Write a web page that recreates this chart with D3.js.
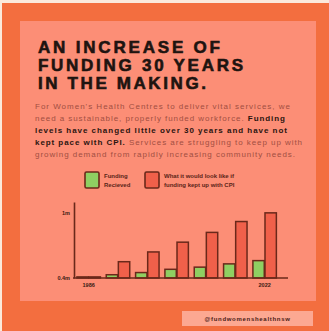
<!DOCTYPE html>
<html><head><meta charset="utf-8">
<script src="https://cdn.jsdelivr.net/npm/d3@7"></script>
<style>html,body{margin:0;padding:0;background:#fbe9dc;}svg{display:block;}</style>
</head><body>
<script>
const years = ["1986","1992","1998","2004","2010","2016","2022"];
const tickYears = ["1986","2022"];
const fundingReceived = [0.41, 0.43, 0.45, 0.48, 0.50, 0.53, 0.56];
const fundingCPI = [0.41, 0.55, 0.64, 0.73, 0.82, 0.92, 1.0];
const yTicks = [0.4, 1.0];
const yTickLabels = ["0.4m", "1m"];
const seriesNames = ["Funding Recieved", "What it would look like if funding kept up with CPI"];

const W = 329, H = 331;
const svg = d3.select("body").append("svg").attr("width", W).attr("height", H);
const dark = "#6a281a";
const fontF = "'Liberation Sans', Arial, sans-serif";

svg.append("rect").attr("x",0).attr("y",0).attr("width",W).attr("height",H).attr("fill","#fbe9dc");
svg.append("rect").attr("x",2).attr("y",3).attr("width",W-2).attr("height",H-3).attr("fill","#f36e3f");
svg.append("rect").attr("x",20).attr("y",21).attr("width",296).attr("height",280).attr("fill","#fc8e76");

// Title
const titleLines = ["AN INCREASE OF","FUNDING 30 YEARS","IN THE MAKING."];
const titleW = [182, 205, 168];
titleLines.forEach((t,i)=>{
  svg.append("text").attr("x",38).attr("y",53 + i*18)
    .attr("font-family",fontF).attr("font-weight","bold").attr("font-size",17)
    .attr("fill","#1e1410").attr("stroke","#1e1410").attr("stroke-width",0.6)
    .attr("textLength",titleW[i]).attr("lengthAdjust","spacing")
    .text(t);
});

// Body text
const bodyLines = [
  [["For Women's Health Centres to deliver vital services, we",false]],
  [["need a sustainable, properly funded workforce. ",false],["Funding",true]],
  [["levels have changed little over 30 years and have not",true]],
  [["kept pace with CPI.",true],[" Services are struggling to keep up with",false]],
  [["growing demand from rapidly increasing community needs.",false]]
];
const bodyW = [255, 250, 252, 267, 260];
bodyLines.forEach((parts,i)=>{
  const t = svg.append("text").attr("x",35).attr("y",109 + i*12)
    .attr("font-family",fontF).attr("font-size",8)
    .attr("textLength",bodyW[i]).attr("lengthAdjust","spacing");
  parts.forEach(p=>{
    t.append("tspan").attr("font-weight",p[1]?"bold":"normal")
     .attr("fill",p[1]?"#2b1510":"#a24f42").text(p[0]);
  });
});

// Legend
const colors = ["#8fcf62","#f0604a"];
const legend = [
  {x:85, lines:["Funding","Recieved"], tx:104},
  {x:145, lines:["What it would look like if","funding kept up with CPI"], tx:164}
];
legend.forEach((l,i)=>{
  svg.append("rect").attr("x",l.x).attr("y",172).attr("width",14).attr("height",16)
    .attr("rx",1.5).attr("fill",colors[i]).attr("stroke",dark).attr("stroke-width",1.6);
  l.lines.forEach((s,j)=>{
    svg.append("text").attr("x",l.tx).attr("y",178 + j*8.5)
      .attr("font-family",fontF).attr("font-weight","bold").attr("font-size",6)
      .attr("fill","#5a2418").text(s);
  });
});

// Chart
const x0 = d3.scaleBand().domain(years).range([74, 279.3]).paddingInner(0.2).paddingOuter(0.1);
const x1 = d3.scaleBand().domain([0,1]).range([0, x0.bandwidth()]).paddingInner(0.06);
const y = d3.scaleLinear().domain([0.4, 1.1]).range([278, 202]);

const g = svg.append("g");
years.forEach((yr,i)=>{
  [fundingReceived[i], fundingCPI[i]].forEach((v,k)=>{
    g.append("rect").attr("x", x0(yr) + x1(k)).attr("y", y(v))
      .attr("width", x1.bandwidth()).attr("height", y(0.4) - y(v))
      .attr("fill", colors[k]).attr("stroke", dark).attr("stroke-width", 1.5);
  });
});

const yAxis = d3.axisLeft(y).tickValues(yTicks).tickSize(0).tickPadding(4)
  .tickFormat((d,i)=>yTickLabels[i]);
const ya = svg.append("g").attr("transform","translate(74,0)").call(yAxis);
ya.select(".domain").attr("stroke",dark).attr("stroke-width",1.6);
ya.selectAll("text").attr("font-family",fontF).attr("font-weight","bold").attr("font-size",5.5).attr("fill","#3a1a12");

const xAxis = d3.axisBottom(x0).tickValues(tickYears).tickSize(0).tickPadding(5);
const xa = svg.append("g").attr("transform","translate(0,278)").call(xAxis);
xa.select(".domain").remove();
xa.selectAll("text").attr("font-family",fontF).attr("font-weight","bold").attr("font-size",5.5).attr("fill","#3a1a12");
svg.append("line").attr("x1",73).attr("x2",288).attr("y1",278).attr("y2",278)
  .attr("stroke",dark).attr("stroke-width",1.6);

// Handle
svg.append("rect").attr("x",182).attr("y",311).attr("width",131).attr("height",15).attr("fill","#fca892");
svg.append("text").attr("x",247.5).attr("y",320.5).attr("text-anchor","middle")
  .attr("font-family",fontF).attr("font-weight","bold").attr("font-size",6)
  .attr("fill","#4a2016").attr("letter-spacing",0.7).text("@fundwomenshealthnsw");
</script>
</body></html>
